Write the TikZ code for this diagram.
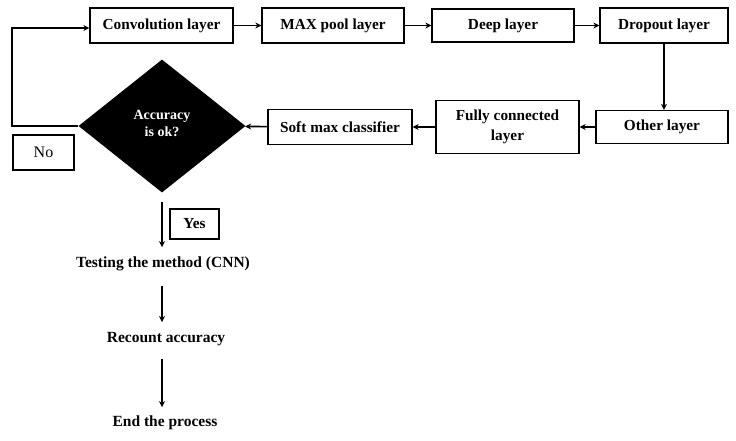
\documentclass[tikz,border=0pt]{standalone}
\usepackage{fontspec}
\setmainfont{Liberation Serif}
\usetikzlibrary{shapes.geometric,arrows.meta}
\tikzset{
  layerbox/.style = {draw = black, line width = 1.3pt, fill = white, inner sep = 2pt, align = center, font = \fontsize{15.3}{19.5}\selectfont\bfseries},
  steptext/.style = {inner sep = 3pt, text height = 10.5pt, text depth = 3pt, font = \fontsize{15.5}{17}\selectfont\bfseries},
  flowarrow/.style = {line width = 1.6pt, -{Stealth[length = 6pt, width = 6pt]}},
}
\begin{document}
\begin{tikzpicture}[x = 1pt, y = -1pt]
\useasboundingbox (0,0) rectangle (736,441);
\pgfmathsetmacro\toprow{25.5};
\pgfmathsetmacro\midrow{127};
% top row of layers
\foreach \name/\x/\w/\h/\txt in {conv/161.5/143/35/Convolution layer, maxpool/333/142/35/MAX pool layer, deep/503/142/33/Deep layer, drop/664/128/35/Dropout layer}
  \node [layerbox, minimum width = \w pt, minimum height = \h pt] (\name) at (\x,\toprow) {\txt};
% second row, right to left
\node [layerbox, minimum width = 132pt, minimum height = 33pt] (other) at (662,\midrow) {Other layer};
\node [layerbox, minimum width = 143pt, minimum height = 53pt] (fully) at (507.5,\midrow) {Fully connected\\layer};
\node [layerbox, minimum width = 144pt, minimum height = 35pt] (soft) at (340,\midrow) {Soft max classifier};
\node [diamond, fill = black, text = white, aspect = 1.26, minimum width = 167pt, minimum height = 133pt, inner sep = 0pt, align = center, font = \fontsize{14}{15}\selectfont\bfseries] (acc) at (162,126) {\raisebox{5pt}{\shortstack{Accuracy\\[1pt]is ok?}}};
\node [layerbox, minimum width = 61pt, minimum height = 35pt, font = \fontsize{16}{17}\selectfont] (no) at (43.5,152.5) {No};
\node [layerbox, minimum width = 49pt, minimum height = 30pt] (yes) at (194.5,224) {Yes};
% final steps
\node [steptext] (test) at (163,264) {Testing the method (CNN)};
\node [steptext] (recount) at (166,339) {Recount accuracy};
\node [steptext] (finish) at (165,423) {End the process};
\coordinate (loop) at (12,28);
% connectors
\foreach \a/\b in {conv/maxpool, maxpool/deep, deep/drop}
  \draw [flowarrow] (\a) -- (\b);
\draw [flowarrow] (drop.south) -- (drop.south |- other.north);
\draw [flowarrow] (other) -- (fully);
\draw [flowarrow] (fully) -- (soft);
\draw [flowarrow] (soft) -- (acc);
\draw [flowarrow] (acc.west) -| (loop) -- (conv.west |- loop);
\draw [flowarrow, shorten <= 9pt, shorten >= 7pt] (acc.south) -- (test.north -| acc.south);
\draw [flowarrow, shorten <= 12pt, shorten >= 7pt] (test.south -| acc.south) -- (recount.north -| acc.south);
\draw [flowarrow, shorten <= 10pt, shorten >= 6pt] (recount.south -| acc.south) -- (finish.north -| acc.south);
\end{tikzpicture}
\end{document}
